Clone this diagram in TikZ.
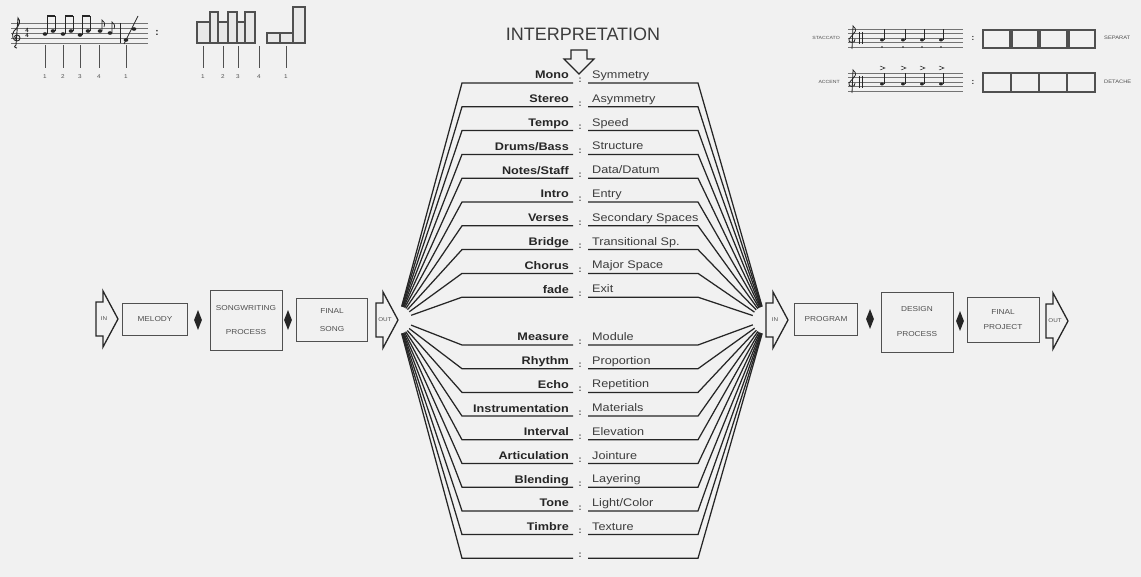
\documentclass[tikz,border=0pt]{standalone}
\usepackage{fontspec}
\setmainfont{Liberation Sans}
\newfontfamily\lblfont[FakeStretch=1.15]{Liberation Sans}
\usetikzlibrary{calc,shapes.geometric}
\definecolor{ink}{HTML}{262626}
\definecolor{paper}{HTML}{F1F1F1}
\definecolor{soft}{HTML}{505050}
\tikzset{
  fan/.style={draw=ink, line width=1.25pt, line join=miter},
  lbll/.style={anchor=base east, inner sep=0, text=ink, font=\lblfont\bfseries\fontsize{11}{12}\selectfont},
  lblr/.style={anchor=base west, inner sep=0, text=ink!90, font=\lblfont\fontsize{11}{12}\selectfont},
  sepcolon/.style={inner sep=0, text=ink!85, font=\bfseries\fontsize{9}{9}\selectfont},
  flowbox/.style={draw=soft, line width=0.9pt, inner sep=0, align=center, text=soft, font=\lblfont\fontsize{7.2}{14}\selectfont},
  joint/.style={diamond, fill=ink, draw=none, inner sep=0, minimum width=8pt, minimum height=20pt},
  arrowline/.style={draw=ink, line width=1.3pt, line join=miter},
  arrowtext/.style={inner sep=0, text=soft, font=\lblfont\fontsize{5.5}{5}\selectfont},
  tag/.style={inner sep=0, text=soft, font=\lblfont\fontsize{5.5}{6}\selectfont},
  staffline/.style={draw=soft!80, line width=0.5pt},
  thinline/.style={draw=soft, line width=0.6pt},
  barbox/.style={draw=soft, line width=1.1pt, fill=gray!18},
  seg/.style={draw=soft, line width=1.1pt},
  blockarrow/.pic={\draw[arrowline] (-11,-17) -- (-4,-17) -- (-4,-28) -- (11,0) -- (-4,28) -- (-4,17) -- (-11,17) -- cycle;}
}
\begin{document}
\begin{tikzpicture}[x=1pt,y=-1pt]
\fill[paper] (0,0) rectangle (1141,577);
\useasboundingbox (0,0) rectangle (1141,577);

% ---------- title ----------
\node[inner sep=0, text=ink!90, font=\fontsize{18}{18}\selectfont] (title) at (583,34) {INTERPRETATION};
\draw[arrowline, line width=1.1pt] (571,50) -- (587,50) -- (587,59) -- (594,59) -- (579,74) -- (564,59) -- (571,59) -- cycle;

% ---------- fan points ----------
\coordinate (fanL) at (398,320);
\coordinate (fanR) at (766,320);

% ---------- upper rows ----------
\foreach \i/\a/\b in {0/Mono/Symmetry,1/Stereo/Asymmetry,2/Tempo/Speed,3/{Drums/Bass}/Structure,4/{Notes/Staff}/{Data/Datum},5/Intro/Entry,6/Verses/{Secondary Spaces},7/Bridge/{Transitional Sp.},8/Chorus/{Major Space},9/fade/Exit}{
  \pgfmathsetmacro\u{83+23.8*\i}
  \coordinate (ua\i) at (462,\u);
  \coordinate (ub\i) at (573,\u);
  \coordinate (uc\i) at (588,\u);
  \coordinate (ud\i) at (698,\u);
  \node[lbll] (la\i) at (569,\u-4) {\a};
  \node[lblr] (lb\i) at (592,\u-4.5) {\b};
  \node[sepcolon] (cc\i) at (580,\u-3) {:};
  \draw[fan] ($(fanL)!14pt!(ua\i)$) -- (ua\i) -- (ub\i);
  \draw[fan] (uc\i) -- (ud\i) -- ($(fanR)!14pt!(ud\i)$);
}
% ---------- lower rows ----------
\foreach \i/\a/\b in {10/Measure/Module,11/Rhythm/Proportion,12/Echo/Repetition,13/Instrumentation/Materials,14/Interval/Elevation,15/Articulation/Jointure,16/Blending/Layering,17/Tone/{Light/Color},18/Timbre/Texture,19/{}/{}}{
  \pgfmathsetmacro\u{345+23.7*(\i-10)}
  \coordinate (ua\i) at (462,\u);
  \coordinate (ub\i) at (573,\u);
  \coordinate (uc\i) at (588,\u);
  \coordinate (ud\i) at (698,\u);
  \node[lbll] (la\i) at (569,\u-4) {\a};
  \node[lblr] (lb\i) at (592,\u-4.5) {\b};
  \node[sepcolon] (cc\i) at (580,\u-3) {:};
  \draw[fan] ($(fanL)!14pt!(ua\i)$) -- (ua\i) -- (ub\i);
  \draw[fan] (uc\i) -- (ud\i) -- ($(fanR)!14pt!(ud\i)$);
}

% ---------- left flow ----------
\pic at (107,319) {blockarrow};
\node[arrowtext] (inL) at (104,319) {IN};
\node[flowbox, minimum width=65pt, minimum height=32pt] (melody) at (155,319) {MELODY};
\node[joint] (j1) at (198,320) {};
\node[flowbox, minimum width=72pt, minimum height=60pt, font=\lblfont\fontsize{7.2}{24}\selectfont] (song) at (246,320) {SONGWRITING\\PROCESS};
\node[joint] (j2) at (288,320) {};
\node[flowbox, minimum width=71pt, minimum height=43pt, font=\lblfont\fontsize{7.2}{18}\selectfont] (fsong) at (332,320) {FINAL\\SONG};
\pic at (387,320) {blockarrow};
\node[arrowtext] (outL) at (385,320) {OUT};

% ---------- right flow ----------
\pic at (777,320) {blockarrow};
\node[arrowtext] (inR) at (775,320) {IN};
\node[flowbox, minimum width=63pt, minimum height=32pt] (program) at (826,319) {PROGRAM};
\node[joint] (j3) at (870,319) {};
\node[flowbox, minimum width=72pt, minimum height=60pt, font=\lblfont\fontsize{7.2}{25}\selectfont] (design) at (917,322) {DESIGN\\PROCESS};
\node[joint] (j4) at (960,321) {};
\node[flowbox, minimum width=72pt, minimum height=45pt, font=\lblfont\fontsize{7.2}{15}\selectfont] (fproj) at (1003,320) {FINAL\\PROJECT};
\pic at (1057,321) {blockarrow};
\node[arrowtext] (outR) at (1055,321) {OUT};

% ---------- top-left: melody staff ----------
\foreach \k in {0,...,4} \draw[staffline] (11,{23+5*\k}) -- (148,{23+5*\k});
% clef
\draw[ink, line width=0.9pt] (17,48) .. controls (14,48) and (14,45) .. (16,45) -- (18,18) .. controls (21,21) and (20,25) .. (14,31) .. controls (11,35) and (13,41) .. (17,41) .. controls (21,41) and (21,35) .. (17,35) .. controls (14,35) and (14,38) .. (16,39);
\node[inner sep=0, text=ink, font=\bfseries\fontsize{6}{5}\selectfont, align=center] (tsig) at (27,33) {4\\4};
% beamed pairs
\foreach \x/\ya/\yb in {45/34/31,63/34/31,80/35/31}{
  \fill[ink] (\x,\ya) ellipse (2.3 and 1.8);
  \fill[ink] (\x+8,\yb) ellipse (2.3 and 1.8);
  \draw[ink, line width=0.7pt] (\x+2,\ya) -- (\x+2,16);
  \draw[ink, line width=0.7pt] (\x+10,\yb) -- (\x+10,16);
  \draw[ink, line width=2pt] (\x+2,16) -- (\x+10,16);
}
% single eighths
\foreach \x/\y in {100/31,110/33}{
  \fill[ink] (\x,\y) ellipse (2.3 and 1.8);
  \draw[ink, line width=0.7pt] (\x+2,\y) -- (\x+2,\y-11) .. controls (\x+5,\y-8) .. (\x+4,\y-4);
}
\draw[ink, line width=0.8pt] (120,23) -- (120,43);
\fill[ink] (126,40) ellipse (2.3 and 1.8);
\fill[ink] (134,29) ellipse (2.3 and 1.8);
\draw[ink, line width=0.7pt] (124,44) -- (138,16);
\foreach \x/\n [count=\c] in {45/1,63/2,80/3,99/4,126/1}{
  \draw[thinline] (\x,45) -- (\x,68);
  \node[tag] (mn\c) at (\x,77) {\n};
}
\node[inner sep=0, text=ink, font=\bfseries\fontsize{10}{10}\selectfont] (tlcolon) at (157,33) {:};
% bar chart
\foreach \xa/\xb/\t in {197/210/22,218/228/22,237/245/22,267/280/33,280/293/33}
  \draw[barbox] (\xa,43) rectangle (\xb,\t);
\foreach \xa/\xb/\t in {210/218/12,228/237/12,245/255/12,293/305/7}
  \draw[barbox] (\xa,43) rectangle (\xb,\t);
\foreach \x/\n [count=\c] in {203/1,223/2,238/3,259/4,286/1}{
  \draw[thinline] (\x,46) -- (\x,68);
  \node[tag] (bn\c) at (\x,77) {\n};
}

% ---------- top-right: staccato / accent ----------
\foreach \cy/\lab/\res/\r in {38/STACCATO/SEPARAT/s,82/ACCENT/DETACHE/a}{
  \foreach \k in {0,...,4} \draw[staffline] (848,{\cy-9+4.5*\k}) -- (963,{\cy-9+4.5*\k});
  \draw[ink, line width=0.8pt] (852,\cy+11) -- (853,\cy-12) .. controls (857,\cy-8) .. (849,\cy+1) .. controls (847,\cy+5) and (856,\cy+6) .. (855,\cy+1);
  \draw[ink, line width=1pt] (859,\cy-6) -- (859,\cy+6);
  \draw[ink, line width=1pt] (862,\cy-6) -- (862,\cy+6);
  \foreach \x in {882,903,922,941}{
    \fill[ink] (\x,\cy+2) ellipse (2 and 1.5);
    \draw[ink, line width=0.6pt] (\x+1.8,\cy+2) -- (\x+1.8,\cy-9);
  }
  \node[inner sep=0, text=ink, font=\bfseries\fontsize{8}{8}\selectfont] (col\r) at (973,\cy) {:};
  \node[anchor=east, inner sep=0, text=soft, font=\lblfont\fontsize{4.5}{5}\selectfont] (lab\r) at (840,\cy) {\lab};
  \node[anchor=west, inner sep=0, text=soft, font=\lblfont\fontsize{5}{5}\selectfont] (res\r) at (1104,\cy) {\res};
}
\foreach \x in {882,903,922,941} \fill[ink] (\x,47) circle (0.8);
\foreach \x in {882,903,922,941} \draw[ink, line width=0.5pt] (\x-2,66) -- (\x+3,68) -- (\x-2,70);
\foreach \xa/\xb in {983/1010,1012/1038,1040/1067,1069/1095} \draw[seg] (\xa,30) rectangle (\xb,48);
\foreach \xa/\xb in {983/1011,1011/1039,1039/1067,1067/1095} \draw[seg] (\xa,73) rectangle (\xb,92);
\end{tikzpicture}
\end{document}
